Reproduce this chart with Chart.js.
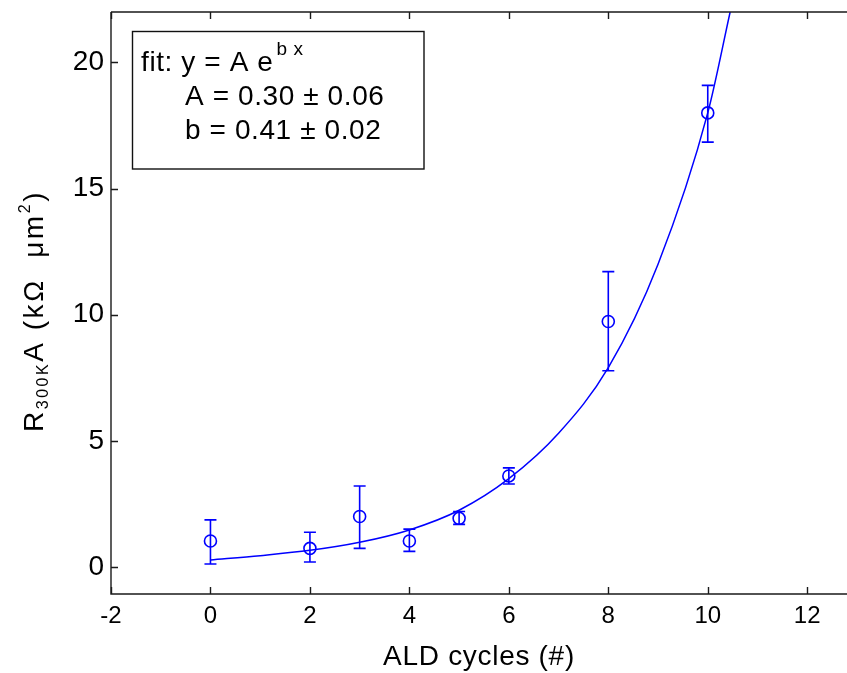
<!DOCTYPE html>
<html>
<head>
<meta charset="utf-8">
<script src="https://cdn.jsdelivr.net/npm/chart.js@4/dist/chart.umd.min.js"></script>
<style>
  html, body { margin: 0; padding: 0; background: #fff; overflow: hidden; }
  #c { display: block; }
</style>
</head>
<body>
<canvas id="c" width="847" height="673"></canvas>
<script>
// ---- data ----
const xTicks = [-2, 0, 2, 4, 6, 8, 10, 12];
const yTicks = [0, 5, 10, 15, 20];
const cycles = [0, 2, 3, 4, 5, 6, 8, 10];
const resistance = [1.03, 0.74, 2.0, 1.03, 1.93, 3.61, 9.73, 18.0];
const errLow = [0.12, 0.2, 0.74, 0.62, 1.69, 3.29, 7.78, 16.84];
const errHigh = [1.87, 1.38, 3.21, 1.5, 2.2, 3.93, 11.71, 19.09];
const fitX = [0, 1, 2, 3, 4, 5, 6, 7, 8, 9, 10, 10.45];
const fitY = [0.28, 0.45, 0.66, 0.98, 1.47, 2.25, 3.5, 5.3, 7.9, 12.0, 18.0, 22.0];
const fitLines = ['fit: y = A e', 'A = 0.30 \u00b1 0.06', 'b = 0.41 \u00b1 0.02'];
const fitSup = 'b x';
const xTitle = 'ALD cycles (#)';

const FONT = '"Liberation Sans", Arial, Helvetica, sans-serif';
const BLUE = '#0000ff';
const AXIS = '#1a1a1a';

const framePlugin = {
  id: 'frame',
  afterDatasetsDraw(chart) {
    const {ctx, scales} = chart;
    const xs = scales.x, ys = scales.y;
    ctx.save();
    ctx.strokeStyle = BLUE;
    ctx.lineWidth = 1.6;
    for (let i = 0; i < cycles.length; i++) {
      const px = xs.getPixelForValue(cycles[i]);
      const lo = ys.getPixelForValue(errLow[i]);
      const hi = ys.getPixelForValue(errHigh[i]);
      const cap = 6;
      ctx.beginPath();
      ctx.moveTo(px, lo); ctx.lineTo(px, hi);
      ctx.moveTo(px - cap, lo); ctx.lineTo(px + cap, lo);
      ctx.moveTo(px - cap, hi); ctx.lineTo(px + cap, hi);
      ctx.stroke();
    }
    ctx.restore();
  },
  afterDraw(chart) {
    const {ctx, chartArea: a, scales} = chart;
    const xs = scales.x, ys = scales.y;
    const W = chart.width;
    ctx.save();
    ctx.strokeStyle = AXIS;
    ctx.lineWidth = 1.4;
    ctx.beginPath();
    ctx.moveTo(a.left, a.top); ctx.lineTo(a.left, a.bottom); ctx.lineTo(W, a.bottom);
    ctx.moveTo(a.left, a.top); ctx.lineTo(W, a.top);
    ctx.stroke();
    const tl = 7;
    ctx.beginPath();
    xTicks.forEach(v => {
      const px = Math.round(xs.getPixelForValue(v)) + 0.5;
      ctx.moveTo(px, a.bottom); ctx.lineTo(px, a.bottom - tl);
      ctx.moveTo(px, a.top); ctx.lineTo(px, a.top + tl);
    });
    yTicks.forEach(v => {
      const py = Math.round(ys.getPixelForValue(v)) + 0.5;
      ctx.moveTo(a.left, py); ctx.lineTo(a.left + tl, py);
    });
    ctx.stroke();

    // annotation box
    ctx.fillStyle = '#fff';
    ctx.fillRect(132.5, 31.5, 291.5, 137.5);
    ctx.strokeStyle = '#111';
    ctx.lineWidth = 1.4;
    ctx.strokeRect(132.5, 31.5, 291.5, 137.5);
    ctx.fillStyle = '#000';
    ctx.textBaseline = 'alphabetic';
    ctx.textAlign = 'left';
    ctx.letterSpacing = '0.6px';
    ctx.font = '28px ' + FONT;
    ctx.fillText(fitLines[0], 141, 71);
    const w0 = ctx.measureText(fitLines[0]).width;
    ctx.fillText(fitLines[1], 185, 105);
    ctx.fillText(fitLines[2], 185, 139);
    ctx.font = '19px ' + FONT;
    ctx.fillText(fitSup, 141 + w0 + 3, 55);

    // x title
    ctx.font = '28px ' + FONT;
    ctx.letterSpacing = '0.7px';
    ctx.textAlign = 'center';
    ctx.fillText(xTitle, 479, 665);

    // y title (rotated, with subscript/superscript)
    ctx.textAlign = 'left';
    ctx.translate(43, 432);
    ctx.rotate(-Math.PI / 2);
    const big = '28px ' + FONT, small = '16px ' + FONT;
    const parts = [['R', big, 0], ['300K', small, 5], ['A (k\u03a9  \u03bcm', big, 0], ['2', small, -13], [')', big, 0]];
    ctx.letterSpacing = '0px';
    let natural = 0, nChars = 0;
    parts.forEach(p => { ctx.font = p[1]; natural += ctx.measureText(p[0]).width; nChars += p[0].length; });
    const target = 242;
    const ls = (target - natural) / nChars;
    let x = 0;
    parts.forEach(p => {
      ctx.font = p[1];
      ctx.letterSpacing = ls + 'px';
      ctx.fillText(p[0], x, p[2]);
      x += ctx.measureText(p[0]).width;
    });
    ctx.restore();
  }
};

const chart = new Chart(document.getElementById('c'), {
  type: 'scatter',
  data: {
    datasets: [
      {
        type: 'line',
        data: fitX.map((x, i) => ({x, y: fitY[i]})),
        borderColor: BLUE,
        borderWidth: 1.5,
        pointRadius: 0,
        cubicInterpolationMode: 'monotone',
        fill: false,
        showLine: true
      },
      {
        data: cycles.map((x, i) => ({x, y: resistance[i]})),
        borderColor: BLUE,
        backgroundColor: 'rgba(0,0,0,0)',
        borderWidth: 1.6,
        pointRadius: 6,
        pointStyle: 'circle',
        showLine: false
      }
    ]
  },
  options: {
    responsive: false,
    animation: false,
    devicePixelRatio: 1,
    layout: { autoPadding: false, padding: { top: 12, right: 0, left: 0, bottom: 0 } },
    plugins: { legend: { display: false }, tooltip: { enabled: false } },
    scales: {
      x: {
        type: 'linear',
        min: -2, max: 12.8,
        afterFit: s => { s.height = 79; s.paddingLeft = 0; s.paddingRight = 0; },
        afterBuildTicks: s => { s.ticks = xTicks.map(v => ({value: v})); },
        grid: { display: false, drawTicks: false },
        border: { display: false },
        ticks: { color: '#000', font: { size: 24, family: FONT }, padding: 8, maxRotation: 0, autoSkip: false }
      },
      y: {
        type: 'linear',
        min: -1.07, max: 22,
        afterFit: s => { s.width = 111; s.paddingTop = 0; s.paddingBottom = 0; },
        afterBuildTicks: s => { s.ticks = yTicks.map(v => ({value: v})); },
        grid: { display: false, drawTicks: false },
        border: { display: false },
        ticks: { color: '#000', font: { size: 28, family: FONT }, padding: 7, autoSkip: false }
      }
    }
  },
  plugins: [framePlugin]
});
</script>
</body>
</html>
